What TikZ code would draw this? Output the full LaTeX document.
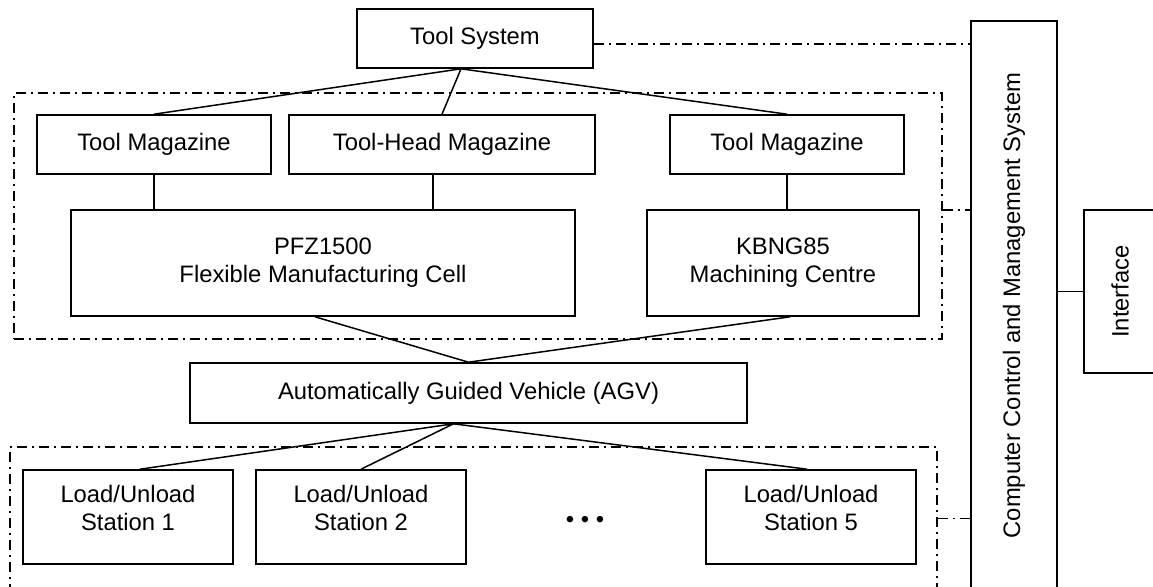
\documentclass[tikz,border=0pt]{standalone}
\usepackage{fontspec}
\setmainfont{Liberation Sans}

\def\unitLine{1.6pt}
\def\magWidth{234pt}
\def\magHeight{59pt}
\def\cellHeight{106pt}
\def\stationWidth{210pt}
\def\stationHeight{94pt}
\def\stationY{517}

\tikzset{
    unit/.style = {draw, line width = \unitLine, inner sep = 0pt, align = center,
        font = \fontsize{23.8}{28}\selectfont},
    magbox/.style = {unit, minimum width = \magWidth, minimum height = \magHeight},
    stationbox/.style = {unit, minimum width = \stationWidth, minimum height = \stationHeight},
    groupframe/.style = {draw, line width = 1.4pt, inner sep = 0pt,
        dash pattern = on 10pt off 5pt on 2pt off 5pt},
    link/.style = {line width = 1.5pt},
    ctrllink/.style = {line width = 1.4pt, dash pattern = on 10pt off 5pt on 2pt off 5pt},
}

\begin{document}
\begin{tikzpicture}[x = 1pt, y = -1pt]
            \useasboundingbox (0,0) rectangle (1153,586);
            \clip (0,0) rectangle (1153,586);
            %% groups
            \node [groupframe, minimum width = 928pt, minimum height = 246pt]
            (cellgroup) at (478,216) {};
            \node [groupframe, minimum width = 927pt, minimum height = 143pt]
            (stationgroup) at (473.5,518.5) {};
            %% tools and machines
            \node [unit, minimum width = 236pt, minimum height = \magHeight]
            (toolsys) at (475,38.5) {Tool System};
            \node [magbox] (mag1) at (154,144.5) {Tool Magazine};
            \node [magbox, minimum width = 306pt] (headmag) at (442,144.5) {Tool-Head Magazine};
            \node [magbox] (mag3) at (787,144.5) {Tool Magazine};
            \node [unit, minimum width = 504pt, minimum height = \cellHeight]
            (pfz) at (323,263) {PFZ1500\\Flexible Manufacturing Cell};
            \node [unit, minimum width = 272pt, minimum height = \cellHeight]
            (kbng) at (783,263) {KBNG85\\Machining Centre};
            \node [unit, minimum width = 557pt, minimum height = 60pt]
            (agv) at (468.5,393) {Automatically Guided Vehicle (AGV)};
            %% stations
            \foreach \n/\x in {1/128,2/361,5/811} {
                \node [stationbox] (st\n) at (\x,\stationY)
                {Load/Unload\\Station \n\\[-10pt]\mbox{}};
            }
            \node [font = \fontsize{23.8}{28}\selectfont] (more) at (585,522)
            {\textbullet\ \textbullet\ \textbullet};
            %% control
            \node [unit, rotate = 90, minimum width = 569pt, minimum height = 86pt]
            (ccms) at (1014,305.5) {Computer Control and Management System};
            \node [unit, rotate = 90, minimum width = 163pt, minimum height = 72pt]
            (iface) at (1120,291.5) {Interface};
            %% links
            \draw [link] ([xshift = -14pt]toolsys.south) -- (mag1.north);
            \draw [link] ([xshift = -14pt]toolsys.south) -- (headmag.north);
            \draw [link] ([xshift = -14pt]toolsys.south) -- (mag3.north);
            \draw [link] (mag1.south) -- (mag1.south |- pfz.north);
            \draw [link] ([xshift = -9pt]headmag.south) -- ([xshift = -9pt]headmag.south |- pfz.north);
            \draw [link] (mag3.south) -- (mag3.south |- kbng.north);
            \draw [link] ([xshift = -8pt]pfz.south) -- (agv.north)
            -- ([xshift = 7pt]kbng.south);
            \draw [link] ([xshift = 12pt]st1.north) -- ([xshift = -15pt]agv.south)
            -- (st2.north);
            \draw [link] ([xshift = -15pt]agv.south) -- ([xshift = -4pt]st5.north);
            \draw [link] (iface.north -| ccms.south) -- (iface.north);
            \draw [ctrllink] ([yshift = -5.5pt]toolsys.east) -- ([yshift = -5.5pt]toolsys.east -| ccms.north);
            \draw [ctrllink] ([yshift = 6pt]cellgroup.east) -- ([yshift = 6pt]cellgroup.east -| ccms.north);
            \draw [ctrllink] (stationgroup.east) -- (stationgroup.east -| ccms.north);
\end{tikzpicture}
\end{document}
